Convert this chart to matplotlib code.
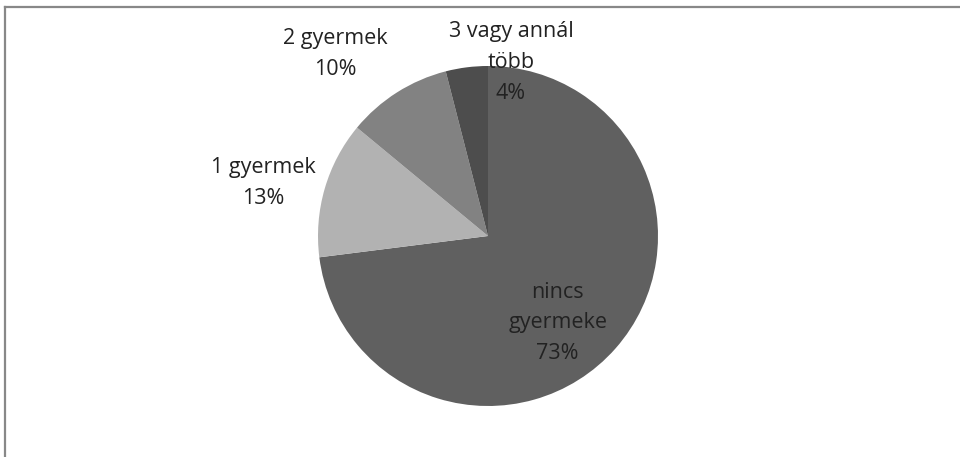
import matplotlib.pyplot as plt
from matplotlib.lines import Line2D

labels = ["nincs\ngyermeke\n73%", "1 gyermek\n13%", "2 gyermek\n10%", "3 vagy annál\ntöbb\n4%"]
values = [73, 13, 10, 4]
colors = ["#606060", "#b2b2b2", "#828282", "#4d4d4d"]
# label centres relative to the pie centre, in pie radii
label_pos = [(0.41, -0.51), (-1.32, 0.31), (-0.90, 1.07), (0.135, 1.02)]

W, H = 960, 457
cx, cy, r = 488, 236, 170

fig = plt.figure(figsize=(W / 100, H / 100), dpi=100)
ax = fig.add_axes([0, 0, 1, 1])
ax.pie(values, colors=colors, startangle=90, counterclock=False,
       wedgeprops=dict(linewidth=0))
for lab, (x, y) in zip(labels, label_pos):
    ax.text(x, y, lab, ha="center", va="center", fontsize=15.5,
            family="Open Sans", color="#222222", linespacing=1.6)

ax.set_xlim(-cx / r, (W - cx) / r)
ax.set_ylim((cy - H) / r, cy / r)
ax.set_aspect("auto")
ax.axis("off")

# chart frame: only top and left edges are visible in the original
x0, y0 = 5 / W, 1 - 6.5 / H
fig.add_artist(Line2D([x0, 1.01], [y0, y0], transform=fig.transFigure,
                      color="#888888", linewidth=1.6))
fig.add_artist(Line2D([x0, x0], [-0.01, y0], transform=fig.transFigure,
                      color="#888888", linewidth=1.6))

fig.savefig("out.png", dpi=100)
